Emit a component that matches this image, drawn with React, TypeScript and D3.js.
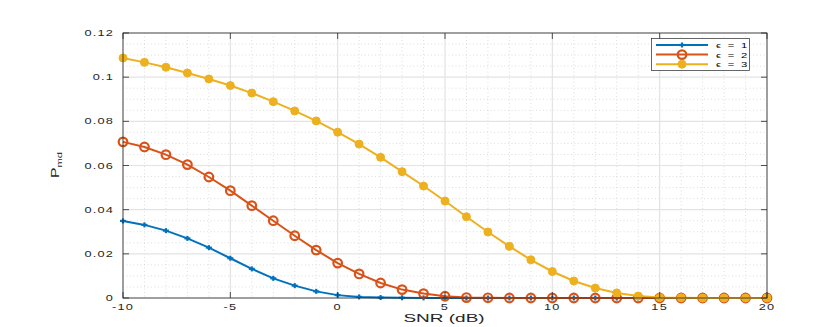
import React, { useEffect } from "react";
import * as d3 from "d3";

// SNR values (dB)
const snr = d3.range(-10, 21);

// P_md for each epsilon
const eps1 = [
  0.0349, 0.0331, 0.0305, 0.027, 0.0228, 0.018, 0.0132, 0.0089, 0.0056, 0.003,
  0.0013, 0.0005, 0.0002, 0.0001, 0.00005, 0, 0, 0, 0, 0, 0, 0, 0, 0, 0, 0, 0,
  0, 0, 0, 0,
];
const eps2 = [
  0.0707, 0.0684, 0.0649, 0.0604, 0.0548, 0.0486, 0.0418, 0.035, 0.0282,
  0.0217, 0.0158, 0.0109, 0.0068, 0.0038, 0.002, 0.0008, 0.0002, 0.0001, 0, 0,
  0, 0, 0, 0, 0, 0, 0, 0, 0, 0, 0,
];
const eps3 = [
  0.1087, 0.1067, 0.1045, 0.1019, 0.0992, 0.0962, 0.0928, 0.0889, 0.0847,
  0.0802, 0.0751, 0.0697, 0.0637, 0.0572, 0.0507, 0.0439, 0.0368, 0.0299,
  0.0234, 0.0173, 0.012, 0.0077, 0.0045, 0.0023, 0.0009, 0.0002, 0.0001, 0, 0,
  0, 0,
];

const seriesNames = ["\u03f5 = 1", "\u03f5 = 2", "\u03f5 = 3"];
const xTicks = [-10, -5, 0, 5, 10, 15, 20];
const yTicks = [0, 0.02, 0.04, 0.06, 0.08, 0.1, 0.12];

const colors = ["#0072BD", "#D95319", "#EDB120"];
const W = 830;
const H = 327;
const left = 123;
const right = 767;
const top = 33;
const bottom = 298;
const font = "'Liberation Sans', 'DejaVu Sans', Arial, sans-serif";
const axisColor = "#262626";

// the figure's text is stretched sideways, so scale it horizontally
function SText(props: {
  x: number;
  y: number;
  size: number;
  stretch?: number;
  spacing?: number;
  anchor?: string;
  rotate?: number;
  fill?: string;
  children: React.ReactNode;
}) {
  const { x, y, size, stretch = 1.5, spacing = 0, anchor = "start", rotate = 0, fill = axisColor, children } = props;
  return (
    <text
      transform={`translate(${x},${y}) rotate(${rotate}) scale(${stretch},1)`}
      textAnchor={anchor}
      fontSize={size}
      letterSpacing={spacing}
      fill={fill}
    >
      {children}
    </text>
  );
}

function Marker({ kind, cx, cy, color }: { kind: number; cx: number; cy: number; color: string }) {
  if (kind === 0) {
    return (
      <g stroke={color} strokeWidth={2.2}>
        <line x1={cx - 3} x2={cx + 3} y1={cy} y2={cy} />
        <line x1={cx} x2={cx} y1={cy - 2.5} y2={cy + 2.5} />
      </g>
    );
  }
  if (kind === 1) {
    return <circle cx={cx} cy={cy} r={4.3} fill="none" stroke={color} strokeWidth={2.2} />;
  }
  return <circle cx={cx} cy={cy} r={4} fill={color} stroke={color} strokeWidth={1} />;
}

export default function App() {
  useEffect(() => {
    document.body.style.margin = "0";
  }, []);

  const x = d3.scaleLinear().domain([-10, 20]).range([left, right]);
  const y = d3.scaleLinear().domain([0, 0.12]).range([bottom, top]);

  const xMinor = d3.range(-10, 21, 1).filter((v) => v % 5 !== 0);
  const yMinor = d3.range(0, 0.1201, 0.005).filter((v) => Math.round(v * 1000) % 20 !== 0);

  const data = [eps1, eps2, eps3];
  const line = d3
    .line<number>()
    .x((_, i) => x(snr[i]))
    .y((d) => y(d));

  return (
    <svg width={W} height={H} style={{ display: "block", background: "#fff" }} fontFamily={font}>
      {/* minor grid */}
      <g stroke="#c8c8c8" strokeWidth={0.6} strokeDasharray="1,2.5">
        {xMinor.map((v) => (
          <line key={"xm" + v} x1={x(v)} x2={x(v)} y1={top} y2={bottom} />
        ))}
        {yMinor.map((v) => (
          <line key={"ym" + v} x1={left} x2={right} y1={y(v)} y2={y(v)} />
        ))}
      </g>
      {/* major grid */}
      <g stroke="#e3e3e3" strokeWidth={1.2}>
        {xTicks.map((v) => (
          <line key={"xg" + v} x1={x(v)} x2={x(v)} y1={top} y2={bottom} />
        ))}
        {yTicks.map((v) => (
          <line key={"yg" + v} x1={left} x2={right} y1={y(v)} y2={y(v)} />
        ))}
      </g>

      {/* series */}
      {data.map((d, k) => (
        <g key={"s" + k}>
          <path d={line(d) ?? ""} fill="none" stroke={colors[k]} strokeWidth={2} />
          {d.map((v, i) => (
            <Marker key={i} kind={k} cx={x(snr[i])} cy={y(v)} color={colors[k]} />
          ))}
        </g>
      ))}

      {/* axes box and ticks */}
      <rect x={left} y={top} width={right - left} height={bottom - top} fill="none" stroke={axisColor} strokeWidth={0.8} />
      <g stroke={axisColor} strokeWidth={0.8}>
        {xTicks.map((v) => (
          <g key={"xt" + v}>
            <line x1={x(v)} x2={x(v)} y1={bottom} y2={bottom - 6} />
            <line x1={x(v)} x2={x(v)} y1={top} y2={top + 6} />
          </g>
        ))}
        {yTicks.map((v) => (
          <g key={"yt" + v}>
            <line x1={left} x2={left + 6} y1={y(v)} y2={y(v)} />
            <line x1={right} x2={right - 6} y1={y(v)} y2={y(v)} />
          </g>
        ))}
      </g>
      {xTicks.map((v) => (
        <SText key={"xl" + v} x={x(v)} y={bottom + 12} size={8.5} spacing={0.8} anchor="middle">
          {v < 0 ? "-" + Math.abs(v) : String(v)}
        </SText>
      ))}
      {yTicks.map((v) => (
        <SText key={"yl" + v} x={left - 9} y={y(v) + 3} size={8.5} spacing={0.8} anchor="end">
          {String(v)}
        </SText>
      ))}

      {/* axis labels */}
      <SText x={(left + right) / 2 - 1} y={bottom + 24} size={10} stretch={1.9} anchor="middle">
        SNR (dB)
      </SText>
      <SText x={59} y={165} size={10.5} stretch={1.5} anchor="middle" rotate={-90}>
        P<tspan fontSize={7.5} dy={3}>md</tspan>
      </SText>

      {/* legend */}
      <g>
        <rect x={651.5} y={38.5} width={98} height={32} fill="#fff" stroke={axisColor} strokeWidth={0.7} />
        {seriesNames.map((name, k) => {
          const ly = 45 + k * 9.6;
          return (
            <g key={"lg" + k}>
              <line x1={656} x2={708} y1={ly} y2={ly} stroke={colors[k]} strokeWidth={2} />
              <Marker kind={k} cx={682} cy={ly} color={colors[k]} />
              <SText x={716} y={ly + 3} size={7.5} spacing={1.2} fill="#000">
                {name}
              </SText>
            </g>
          );
        })}
      </g>
    </svg>
  );
}
